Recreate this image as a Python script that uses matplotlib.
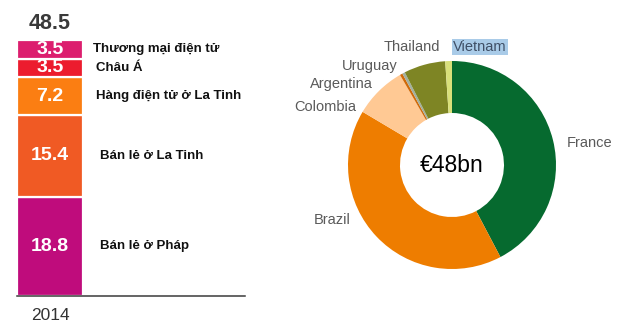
import matplotlib
matplotlib.use("Agg")
import matplotlib.pyplot as plt

# Revenue breakdown, 2014 (stacked, top to bottom)
seg_labels = ["Thương mại điện tử", "Châu Á", "Hàng điện tử ở La Tinh",
              "Bán lẻ ở La Tinh", "Bán lẻ ở Pháp"]
seg_values = [3.5, 3.5, 7.2, 15.4, 18.8]
seg_colors = ["#DC1E6E", "#EC1C2E", "#FB7E12", "#F05A24", "#BF0C7C"]
total_label = "48.5"
year_label = "2014"

# Revenue by country (clockwise from top), € bn
countries = ["France", "Brazil", "Colombia", "Argentina", "Uruguay", "Thailand", "Vietnam"]
country_values = [20.3, 19.8, 3.9, 0.2, 0.2, 3.1, 0.5]
country_colors = ["#066A2F", "#EE7D00", "#FFC994", "#D06A08", "#A2B0A0", "#7E8524", "#D9E07A"]
center_label = "€48bn"

plt.rcParams["font.family"] = ["Liberation Sans", "DejaVu Sans"]

W, H = 640, 325
fig = plt.figure(figsize=(W / 100, H / 100), dpi=100)

# ---- stacked bar ----
base_px, top_px, left_px, right_px = 296, 40, 17, 245
ax = fig.add_axes([left_px / W, (H - base_px) / H, (right_px - left_px) / W, (base_px - top_px) / H])
total = sum(seg_values)
ax.set_xlim(0, right_px - left_px)
ax.set_ylim(0, total)
ax.axis("off")

bottom = 0.0
label_x = [76, 79, 79, 83, 83]
for i in range(len(seg_values) - 1, -1, -1):
    v = seg_values[i]
    ax.bar(33, v, width=66, bottom=bottom, color=seg_colors[i],
           edgecolor="white", linewidth=1.6)
    yc = bottom + v / 2
    ax.text(33, yc, f"{v:.1f}", ha="center", va="center", color="white",
            fontsize=14, fontweight="bold")
    ax.text(label_x[i], yc, seg_labels[i], ha="left", va="center", color="#111111",
            fontsize=9.5, fontweight="bold")
    bottom += v

ax.annotate(total_label, xy=(33, total), xytext=(0, 4), textcoords="offset points",
            ha="center", va="bottom", fontsize=15.5, fontweight="bold", color="#3A3A3A",
            annotation_clip=False)
ax.plot([0, right_px - left_px], [0, 0], color="#3A3A3A", lw=1.1, clip_on=False)
ax.annotate(year_label, xy=(33, 0), xytext=(0, -9), textcoords="offset points",
            ha="center", va="top", fontsize=12.5, color="#333333", annotation_clip=False)

# ---- donut ----
cx, cy, half = 452, 165, 130
pax = fig.add_axes([(cx - half) / W, (H - cy - half) / H, 2 * half / W, 2 * half / H])
pax.pie(country_values, colors=country_colors, startangle=90, counterclock=False,
        radius=1.0, wedgeprops=dict(width=0.5, linewidth=0))
pax.set_xlim(-1.25, 1.25)
pax.set_ylim(-1.25, 1.25)
pax.set_aspect("equal")
pax.axis("off")

pax.text(0, 0, center_label, ha="center", va="center", fontsize=16.5, color="black")

label_pos = {
    "France": (1.327, 0.21),
    "Brazil": (-1.154, -0.529),
    "Colombia": (-1.221, 0.558),
    "Argentina": (-1.0625, 0.779),
    "Uruguay": (-0.793, 0.952),
    "Thailand": (-0.389, 1.135),
    "Vietnam": (0.269, 1.135),
}
for name in countries:
    x, y = label_pos[name]
    kw = {}
    color = "#5A5A5A"
    if name == "Vietnam":
        kw["bbox"] = dict(boxstyle="square,pad=0.05", facecolor="#A9CBE8", edgecolor="none")
        color = "#3F4F66"
    pax.text(x, y, name, ha="center", va="center", fontsize=10.5, color=color,
             clip_on=False, **kw)

fig.savefig("out.png", dpi=100, facecolor="white")
